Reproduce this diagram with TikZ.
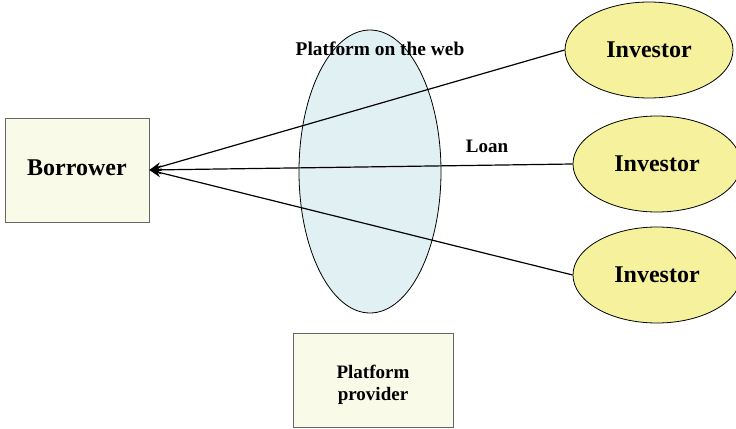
\documentclass[tikz,border=0pt]{standalone}
\usepackage{fontspec}
\setmainfont{Liberation Serif}
\usetikzlibrary{shapes.geometric,arrows.meta,positioning}
\definecolor{boxfill}{RGB}{250,250,232}
\definecolor{investfill}{RGB}{246,241,156}
\definecolor{webfill}{RGB}{224,240,243}
\begin{document}
\begin{tikzpicture}[
  x=0.5pt, y=-0.5pt,
  party/.style={rectangle, draw=black!60, fill=boxfill, inner sep=0pt, align=center, font=\bfseries},
  investor/.style={ellipse, draw, fill=investfill, inner sep=0pt, minimum width=84pt, minimum height=48pt, font=\bfseries\fontsize{12}{14}\selectfont},
  arrow/.style={-{Stealth[length=6pt,width=4.5pt]}, semithick}
]
  \useasboundingbox (0,0) rectangle (736,429);
  \node[ellipse, draw, fill=webfill, inner sep=0pt, minimum width=71pt, minimum height=141.5pt] (web) at (370,171.5) {};
  \node[party, minimum width=72pt, minimum height=52pt, font=\bfseries\fontsize{12}{14}\selectfont] (bor) at (77,170) {\raisebox{2pt}{Borrower}};
  \node[party, minimum width=80pt, minimum height=47pt, font=\bfseries\fontsize{9.5}{11}\selectfont] (prov) at (373,380) {\rule{0pt}{12pt}Platform\\provider};
  \node[investor] (inv1) at (649,50) {Investor};
  \node[investor] (inv2) at (657,164) {Investor};
  \node[investor] (inv3) at (657,275) {Investor};
  \draw[arrow] (inv1.west) -- (bor.east);
  \draw[arrow] (inv2.west) -- (bor.east);
  \draw[arrow] (inv3.west) -- (bor.east);
  \node[font=\bfseries\fontsize{9.7}{11}\selectfont] (weblabel) at (380,49) {Platform on the web};
  \node[font=\bfseries\fontsize{9.5}{11}\selectfont] (loan) at (487,146) {Loan};
\end{tikzpicture}
\end{document}
